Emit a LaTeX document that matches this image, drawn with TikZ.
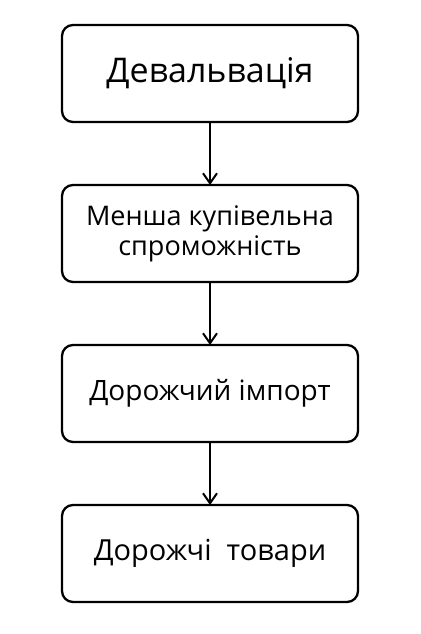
\documentclass[tikz,border=0pt]{standalone}
\usepackage{fontspec}
\setmainfont{Open Sans}
\usetikzlibrary{positioning,arrows.meta}
\begin{document}
\begin{tikzpicture}[x=1pt, y=1pt, node distance={63pt}, line width=2.3pt,
    main/.style = {draw, outer sep=0pt, rounded corners=11pt, minimum width=296pt, minimum height=97pt, align=center, font=\fontsize{28}{30}\selectfont},
    link/.style = {-{Straight Barb[length=10pt, width=14pt, line width=2pt]}, line width=2pt}]
  \useasboundingbox (0,0) rectangle (420,-634);
  \node[main, font=\fontsize{34}{36}\selectfont] (1) at (210,-73.5) {Девальвація};
  \node[main, font=\fontsize{27}{30}\selectfont] (2) [below=of 1] {Менша купівельна\\спроможність};
  \node[main] (3) [below=of 2] {Дорожчий імпорт};
  \node[main, font=\fontsize{29}{30}\selectfont] (4) [below=of 3] {Дорожчі\ \ товари};

  \draw[link] (1) to (2);
  \draw[link] (2) to (3);
  \draw[link] (3) to (4);
\end{tikzpicture}
\end{document}
